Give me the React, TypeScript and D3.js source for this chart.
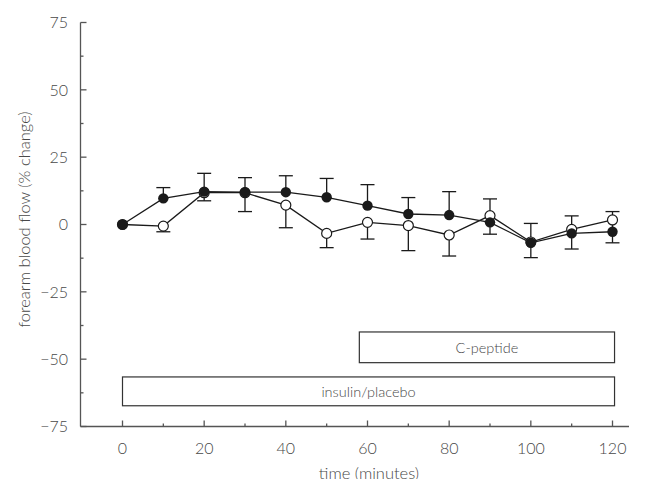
import { useRef, useEffect } from "react";
import * as d3 from "d3";

// time points (minutes)
const times = [0, 10, 20, 30, 40, 50, 60, 70, 80, 90, 100, 110, 120];
// filled circles: mean and upward error
const filledMean = [0, 9.7, 12.2, 12, 12, 10.1, 7.0, 3.9, 3.5, 0.8, -6.8, -3.3, -2.7];
const filledErr = [0, 4.0, 6.8, 5.4, 6.1, 7.0, 7.8, 6.1, 8.7, 8.7, 7.2, 6.5, 7.5];
// open circles: mean and downward error
const openMean = [0, -0.6, 11.8, 11.8, 7.2, -3.3, 0.8, -0.4, -3.9, 3.3, -6.5, -1.8, 1.7];
const openErr = [0, 2.1, 3.0, 7.0, 8.4, 5.3, 6.2, 9.3, 7.8, 6.9, 5.8, 7.3, 8.5];

const yTicks = [-75, -50, -25, 0, 25, 50, 75];
const xTicks = [0, 20, 40, 60, 80, 100, 120];

// treatment periods: label, start, end (minutes), top, bottom (% units)
const periodLabels = ["C-peptide", "insulin/placebo"];
const periodStart = [58, 0];
const periodEnd = [120.5, 120.5];
const periodTop = [-39.9, -56.6];
const periodBottom = [-51.3, -67.3];

const W = 647;
const H = 487;
const FONT = "Lato, 'Open Sans', sans-serif";
const TEXT = "#484848";
const AXIS = "#555";

const Chart = () => {
  const ref = useRef<SVGSVGElement>(null);

  useEffect(() => {
    const svg = d3.select(ref.current);
    svg.selectAll("*").remove();

    const x = d3.scaleLinear().domain([0, 120]).range([122.5, 612.5]);
    const y = d3.scaleLinear().domain([-75, 75]).range([426.5, 22.5]);
    const x0 = 80.5;

    // axes
    const ax = svg.append("g").attr("stroke", AXIS).attr("stroke-width", 1.3);
    ax.append("line").attr("x1", x0).attr("x2", x0).attr("y1", y(75)).attr("y2", y(-75));
    ax.append("line").attr("x1", x0).attr("x2", 629).attr("y1", y(-75)).attr("y2", y(-75));

    d3.range(-75, 76, 12.5).forEach((v) => {
      const major = v % 25 === 0;
      ax.append("line")
        .attr("x1", x0).attr("x2", x0 + (major ? 6 : 3))
        .attr("y1", y(v)).attr("y2", y(v));
    });
    d3.range(0, 121, 10).forEach((v) => {
      const major = v % 20 === 0;
      ax.append("line")
        .attr("x1", x(v)).attr("x2", x(v))
        .attr("y1", y(-75)).attr("y2", y(-75) - (major ? 6 : 3));
    });

    const txt = svg.append("g")
      .attr("font-family", FONT)
      .attr("font-weight", 300)
      .attr("fill", TEXT)
      .attr("font-size", 16);

    yTicks.forEach((v) => {
      txt.append("text")
        .attr("x", 68).attr("y", y(v)).attr("dy", "0.36em")
        .attr("text-anchor", "end")
        .text(v < 0 ? `\u2212${Math.abs(v)}` : `${v}`);
    });
    xTicks.forEach((v) => {
      txt.append("text")
        .attr("x", x(v)).attr("y", 454)
        .attr("text-anchor", "middle")
        .text(v);
    });

    txt.append("text")
      .attr("x", 369).attr("y", 479)
      .attr("text-anchor", "middle")
      .attr("font-size", 16.5)
      .text("time (minutes)");
    txt.append("text")
      .attr("transform", `translate(30,${y(0) - 5}) rotate(-90)`)
      .attr("text-anchor", "middle")
      .attr("font-size", 16.5)
      .text("forearm blood flow (% change)");

    // treatment boxes
    periodLabels.forEach((label, i) => {
      const x1 = x(periodStart[i]);
      const x2 = x(periodEnd[i]);
      const y1 = y(periodTop[i]);
      const y2 = y(periodBottom[i]);
      svg.append("rect")
        .attr("x", x1).attr("y", y1)
        .attr("width", x2 - x1).attr("height", y2 - y1)
        .attr("fill", "none").attr("stroke", "#333").attr("stroke-width", 1.2);
      txt.append("text")
        .attr("x", (x1 + x2) / 2).attr("y", (y1 + y2) / 2).attr("dy", "0.36em")
        .attr("text-anchor", "middle")
        .attr("font-size", 14.5)
        .text(label);
    });

    // error bars
    const cap = 7;
    const eb = svg.append("g").attr("stroke", "#1a1a1a").attr("stroke-width", 1.3);
    times.forEach((t, i) => {
      const cx = x(t);
      if (filledErr[i] > 0) {
        const top = y(filledMean[i] + filledErr[i]);
        eb.append("line").attr("x1", cx).attr("x2", cx).attr("y1", y(filledMean[i])).attr("y2", top);
        eb.append("line").attr("x1", cx - cap).attr("x2", cx + cap).attr("y1", top).attr("y2", top);
      }
      if (openErr[i] > 0) {
        const bot = y(openMean[i] - openErr[i]);
        eb.append("line").attr("x1", cx).attr("x2", cx).attr("y1", y(openMean[i])).attr("y2", bot);
        eb.append("line").attr("x1", cx - cap).attr("x2", cx + cap).attr("y1", bot).attr("y2", bot);
      }
    });

    // lines
    const line = d3.line<number>().x((_, i) => x(times[i])).y((d) => y(d));
    svg.append("path").datum(openMean).attr("d", line)
      .attr("fill", "none").attr("stroke", "#1a1a1a").attr("stroke-width", 1.3);
    svg.append("path").datum(filledMean).attr("d", line)
      .attr("fill", "none").attr("stroke", "#1a1a1a").attr("stroke-width", 1.3);

    // markers
    svg.append("g").selectAll("circle").data(openMean).enter().append("circle")
      .attr("cx", (_, i) => x(times[i])).attr("cy", (d) => y(d)).attr("r", 5)
      .attr("fill", "#fff").attr("stroke", "#1a1a1a").attr("stroke-width", 1.2);
    svg.append("g").selectAll("circle").data(filledMean).enter().append("circle")
      .attr("cx", (_, i) => x(times[i])).attr("cy", (d) => y(d)).attr("r", 5.2)
      .attr("fill", "#1a1a1a");
  }, []);

  return <svg ref={ref} width={W} height={H} style={{ display: "block" }} />;
};

export default function App() {
  return (
    <div style={{ margin: -8, width: W, height: H, background: "#fff" }}>
      <Chart />
    </div>
  );
}
